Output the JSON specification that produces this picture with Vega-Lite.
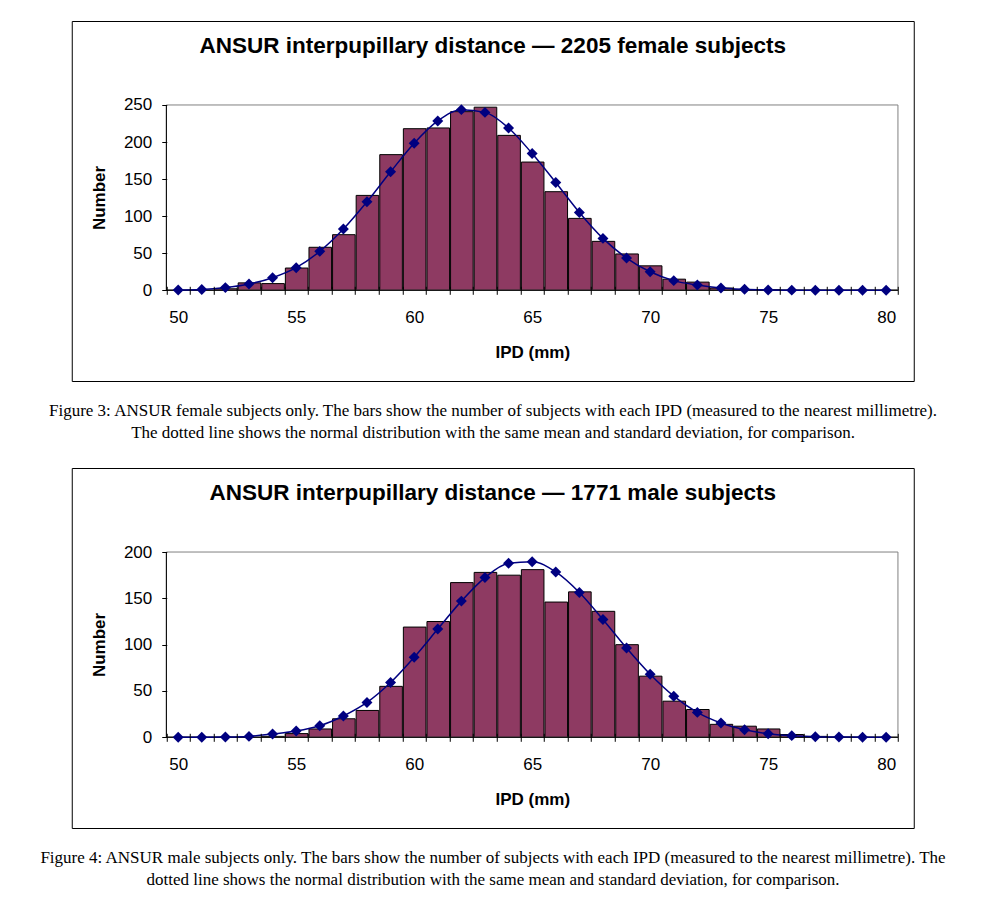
{
  "$schema": "https://vega.github.io/schema/vega-lite/v6.json",
  "background": "white",
  "padding": {"left": 28, "top": 20, "right": 0, "bottom": 0},
  "spacing": 20,
  "center": true,
  "config": {"font": "Liberation Sans"},
  "datasets": {
    "female": [
      {"ipd": 50, "n": 0, "fit": 0.3},
      {"ipd": 51, "n": 0, "fit": 1},
      {"ipd": 52, "n": 2, "fit": 3.6},
      {"ipd": 53, "n": 10, "fit": 8.5},
      {"ipd": 54, "n": 9, "fit": 17},
      {"ipd": 55, "n": 30, "fit": 30.5},
      {"ipd": 56, "n": 58, "fit": 52.5},
      {"ipd": 57, "n": 75, "fit": 82.6},
      {"ipd": 58, "n": 128, "fit": 119.4},
      {"ipd": 59, "n": 183, "fit": 159.8},
      {"ipd": 60, "n": 218, "fit": 198.4},
      {"ipd": 61, "n": 219, "fit": 228.5},
      {"ipd": 62, "n": 241, "fit": 243.7},
      {"ipd": 63, "n": 247, "fit": 240},
      {"ipd": 64, "n": 209, "fit": 219},
      {"ipd": 65, "n": 173, "fit": 184.5},
      {"ipd": 66, "n": 133, "fit": 145.4},
      {"ipd": 67, "n": 97, "fit": 105},
      {"ipd": 68, "n": 66, "fit": 70},
      {"ipd": 69, "n": 49, "fit": 43.5},
      {"ipd": 70, "n": 33, "fit": 25},
      {"ipd": 71, "n": 15, "fit": 13},
      {"ipd": 72, "n": 11, "fit": 7},
      {"ipd": 73, "n": 3, "fit": 3},
      {"ipd": 74, "n": 1, "fit": 1.3},
      {"ipd": 75, "n": 1, "fit": 0.5},
      {"ipd": 76, "n": 0, "fit": 0.2},
      {"ipd": 77, "n": 0, "fit": 0.1},
      {"ipd": 78, "n": 0, "fit": 0},
      {"ipd": 79, "n": 0, "fit": 0},
      {"ipd": 80, "n": 0, "fit": 0}
    ],
    "male": [
      {"ipd": 50, "n": 0, "fit": 0},
      {"ipd": 51, "n": 0, "fit": 0.1},
      {"ipd": 52, "n": 0, "fit": 0.3},
      {"ipd": 53, "n": 0, "fit": 1},
      {"ipd": 54, "n": 1, "fit": 3.6},
      {"ipd": 55, "n": 4, "fit": 6.8},
      {"ipd": 56, "n": 9, "fit": 12.5},
      {"ipd": 57, "n": 20, "fit": 23},
      {"ipd": 58, "n": 29, "fit": 37.6},
      {"ipd": 59, "n": 55, "fit": 59.1},
      {"ipd": 60, "n": 119, "fit": 86.4},
      {"ipd": 61, "n": 125, "fit": 116.8},
      {"ipd": 62, "n": 167, "fit": 147},
      {"ipd": 63, "n": 178, "fit": 172.4},
      {"ipd": 64, "n": 175, "fit": 187.8},
      {"ipd": 65, "n": 181, "fit": 189.6},
      {"ipd": 66, "n": 146, "fit": 178.5},
      {"ipd": 67, "n": 157, "fit": 156.3},
      {"ipd": 68, "n": 136, "fit": 127.2},
      {"ipd": 69, "n": 100, "fit": 96.4},
      {"ipd": 70, "n": 66, "fit": 68},
      {"ipd": 71, "n": 39, "fit": 44.4},
      {"ipd": 72, "n": 30, "fit": 26.9},
      {"ipd": 73, "n": 14, "fit": 15.4},
      {"ipd": 74, "n": 12, "fit": 8.2},
      {"ipd": 75, "n": 9, "fit": 3.9},
      {"ipd": 76, "n": 3, "fit": 1.8},
      {"ipd": 77, "n": 1, "fit": 0.7},
      {"ipd": 78, "n": 0, "fit": 0.3},
      {"ipd": 79, "n": 0, "fit": 0.1},
      {"ipd": 80, "n": 0, "fit": 0}
    ]
  },
  "vconcat": [
    {
      "width": 842,
      "height": 360,
      "view": {"stroke": "#000000", "strokeWidth": 1},
      "title": {"text": "ANSUR interpupillary distance — 2205 female subjects", "frame": "group", "anchor": "middle", "orient": "top", "offset": -54, "baseline": "alphabetic", "font": "Liberation Sans", "fontSize": 22.5, "fontWeight": "bold", "color": "#000000"},
      "data": {"name": "female"},
      "layer": [
        {
          "mark": {"type": "bar", "fill": "#8E3A62", "stroke": "#000000", "strokeWidth": 1},
          "encoding": {
            "x": {"field": "ipd", "type": "quantitative", "bin": {"step": 1, "anchor": 49.5, "extent": [49.5, 80.5], "nice": false},
              "scale": {"domain": [45.49, 81.17], "nice": false, "zero": false},
              "axis": {"values": [49.5, 50.5, 51.5, 52.5, 53.5, 54.5, 55.5, 56.5, 57.5, 58.5, 59.5, 60.5, 61.5, 62.5, 63.5, 64.5, 65.5, 66.5, 67.5, 68.5, 69.5, 70.5, 71.5, 72.5, 73.5, 74.5, 75.5, 76.5, 77.5, 78.5, 79.5, 80.5],
                "labelExpr": "(datum.value + 0.5) % 5 == 0 ? format(datum.value + 0.5, 'd') : ''",
                "labelOffset": 11.8, "offset": -86.7, "domain": false, "grid": false, "ticks": true, "tickSize": -8, "tickColor": "#000000", "zindex": 2,
                "labelFont": "Liberation Sans", "labelFontSize": 17, "labelColor": "#000000", "labelPadding": 23, "labelOverlap": false, "labelFlush": false,
                "title": "IPD (mm)", "titleFont": "Liberation Sans", "titleFontSize": 17, "titleFontWeight": "bold", "titleColor": "#000000", "titleX": 460.5, "titleY": 57.7, "titleBaseline": "middle", "titleAnchor": "middle"}},
            "y": {"field": "n", "type": "quantitative",
              "scale": {"domain": [-122.4, 363.3], "nice": false},
              "axis": {"values": [0, 50, 100, 150, 200, 250], "offset": -95, "domain": false, "grid": false, "tickSize": 5, "tickColor": "#000000", "zindex": 2,
                "labelFont": "Liberation Sans", "labelFontSize": 17, "labelColor": "#000000", "labelPadding": 10, "labelOverlap": false, "labelFlush": false,
                "title": "Number", "titleFont": "Liberation Sans", "titleFontSize": 17, "titleFontWeight": "bold", "titleColor": "#000000", "titleX": -67, "titleY": 176.5, "titleBaseline": "middle", "titleAnchor": "middle"}},
            "y2": {"datum": 0}
          }
        },
        {
          "data": {"values": [{}]},
          "mark": {"type": "rect", "fillOpacity": 0, "stroke": "#808080", "strokeWidth": 1},
          "encoding": {
            "x": {"datum": 49.5}, "x2": {"datum": 80.5},
            "y": {"datum": 0}, "y2": {"datum": 250}
          }
        },
        {
          "data": {"values": [{}]},
          "mark": {"type": "rule", "color": "#000000", "strokeWidth": 1},
          "encoding": {"x": {"datum": 49.5}, "y": {"datum": 0}, "y2": {"datum": 250}}
        },
        {
          "data": {"values": [{}]},
          "mark": {"type": "rule", "color": "#000000", "strokeWidth": 1},
          "encoding": {"x": {"datum": 49.5}, "x2": {"datum": 80.5}, "y": {"datum": 0}}
        },
        {
          "mark": {"type": "line", "color": "#000080", "strokeWidth": 1.5, "interpolate": "monotone"},
          "encoding": {"x": {"field": "ipd", "type": "quantitative"}, "y": {"field": "fit", "type": "quantitative"}}
        },
        {
          "mark": {"type": "point", "shape": "diamond", "filled": true, "size": 120, "color": "#000080", "opacity": 1},
          "encoding": {"x": {"field": "ipd", "type": "quantitative"}, "y": {"field": "fit", "type": "quantitative"}}
        }
      ]
    },
    {
      "width": 930,
      "height": 44,
      "view": {"stroke": null},
      "data": {"values": [
        {"i": 1, "t": "Figure 3: ANSUR female subjects only. The bars show the number of subjects with each IPD (measured to the nearest millimetre)."},
        {"i": 2, "t": "The dotted line shows the normal distribution with the same mean and standard deviation, for comparison."}
      ]},
      "mark": {"type": "text", "font": "Liberation Serif", "fontSize": 17, "baseline": "middle", "align": "center", "color": "#000000"},
      "encoding": {
        "x": {"datum": 0, "scale": {"domain": [-1, 1]}, "axis": null},
        "y": {"field": "i", "type": "quantitative", "scale": {"domain": [0.636, 2.636], "reverse": true, "nice": false, "zero": false}, "axis": null},
        "text": {"field": "t"}
      }
    },
    {
      "width": 842,
      "height": 360,
      "view": {"stroke": "#000000", "strokeWidth": 1},
      "title": {"text": "ANSUR interpupillary distance — 1771 male subjects", "frame": "group", "anchor": "middle", "orient": "top", "offset": -54, "baseline": "alphabetic", "font": "Liberation Sans", "fontSize": 22.5, "fontWeight": "bold", "color": "#000000"},
      "data": {"name": "male"},
      "layer": [
        {
          "mark": {"type": "bar", "fill": "#8E3A62", "stroke": "#000000", "strokeWidth": 1},
          "encoding": {
            "x": {"field": "ipd", "type": "quantitative", "bin": {"step": 1, "anchor": 49.5, "extent": [49.5, 80.5], "nice": false},
              "scale": {"domain": [45.49, 81.17], "nice": false, "zero": false},
              "axis": {"values": [49.5, 50.5, 51.5, 52.5, 53.5, 54.5, 55.5, 56.5, 57.5, 58.5, 59.5, 60.5, 61.5, 62.5, 63.5, 64.5, 65.5, 66.5, 67.5, 68.5, 69.5, 70.5, 71.5, 72.5, 73.5, 74.5, 75.5, 76.5, 77.5, 78.5, 79.5, 80.5],
                "labelExpr": "(datum.value + 0.5) % 5 == 0 ? format(datum.value + 0.5, 'd') : ''",
                "labelOffset": 11.8, "offset": -86.7, "domain": false, "grid": false, "ticks": true, "tickSize": -8, "tickColor": "#000000", "zindex": 2,
                "labelFont": "Liberation Sans", "labelFontSize": 17, "labelColor": "#000000", "labelPadding": 23, "labelOverlap": false, "labelFlush": false,
                "title": "IPD (mm)", "titleFont": "Liberation Sans", "titleFontSize": 17, "titleFontWeight": "bold", "titleColor": "#000000", "titleX": 460.5, "titleY": 57.7, "titleBaseline": "middle", "titleAnchor": "middle"}},
            "y": {"field": "n", "type": "quantitative",
              "scale": {"domain": [-97.9, 290.7], "nice": false},
              "axis": {"values": [0, 50, 100, 150, 200], "offset": -95, "domain": false, "grid": false, "tickSize": 5, "tickColor": "#000000", "zindex": 2,
                "labelFont": "Liberation Sans", "labelFontSize": 17, "labelColor": "#000000", "labelPadding": 10, "labelOverlap": false, "labelFlush": false,
                "title": "Number", "titleFont": "Liberation Sans", "titleFontSize": 17, "titleFontWeight": "bold", "titleColor": "#000000", "titleX": -67, "titleY": 176.5, "titleBaseline": "middle", "titleAnchor": "middle"}},
            "y2": {"datum": 0}
          }
        },
        {
          "data": {"values": [{}]},
          "mark": {"type": "rect", "fillOpacity": 0, "stroke": "#808080", "strokeWidth": 1},
          "encoding": {
            "x": {"datum": 49.5}, "x2": {"datum": 80.5},
            "y": {"datum": 0}, "y2": {"datum": 200}
          }
        },
        {
          "data": {"values": [{}]},
          "mark": {"type": "rule", "color": "#000000", "strokeWidth": 1},
          "encoding": {"x": {"datum": 49.5}, "y": {"datum": 0}, "y2": {"datum": 200}}
        },
        {
          "data": {"values": [{}]},
          "mark": {"type": "rule", "color": "#000000", "strokeWidth": 1},
          "encoding": {"x": {"datum": 49.5}, "x2": {"datum": 80.5}, "y": {"datum": 0}}
        },
        {
          "mark": {"type": "line", "color": "#000080", "strokeWidth": 1.5, "interpolate": "monotone"},
          "encoding": {"x": {"field": "ipd", "type": "quantitative"}, "y": {"field": "fit", "type": "quantitative"}}
        },
        {
          "mark": {"type": "point", "shape": "diamond", "filled": true, "size": 120, "color": "#000080", "opacity": 1},
          "encoding": {"x": {"field": "ipd", "type": "quantitative"}, "y": {"field": "fit", "type": "quantitative"}}
        }
      ]
    },
    {
      "width": 930,
      "height": 44,
      "view": {"stroke": null},
      "data": {"values": [
        {"i": 1, "t": "Figure 4: ANSUR male subjects only. The bars show the number of subjects with each IPD (measured to the nearest millimetre). The"},
        {"i": 2, "t": "dotted line shows the normal distribution with the same mean and standard deviation, for comparison."}
      ]},
      "mark": {"type": "text", "font": "Liberation Serif", "fontSize": 17, "baseline": "middle", "align": "center", "color": "#000000"},
      "encoding": {
        "x": {"datum": 0, "scale": {"domain": [-1, 1]}, "axis": null},
        "y": {"field": "i", "type": "quantitative", "scale": {"domain": [0.636, 2.636], "reverse": true, "nice": false, "zero": false}, "axis": null},
        "text": {"field": "t"}
      }
    }
  ]
}
